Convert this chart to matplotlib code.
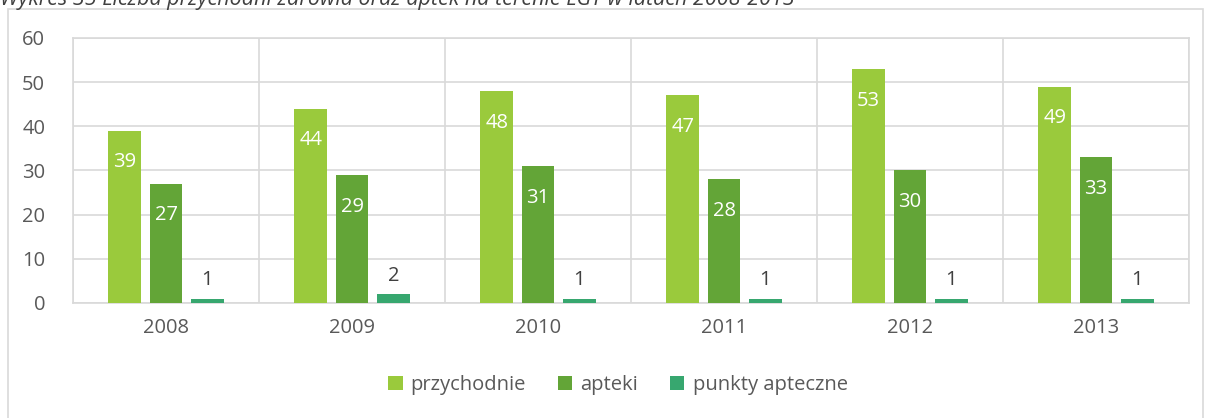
import matplotlib.pyplot as plt
import numpy as np
from matplotlib.patches import Rectangle

plt.rcParams['font.family'] = ['Open Sans', 'DejaVu Sans']

# dane
lata = ['2008', '2009', '2010', '2011', '2012', '2013']
przychodnie = [39, 44, 48, 47, 53, 49]
apteki = [27, 29, 31, 28, 30, 33]
punkty_apteczne = [1, 2, 1, 1, 1, 1]
serie = ['przychodnie', 'apteki', 'punkty apteczne']
kolory = ['#9ACA3C', '#63A537', '#37A76F']
tytul = 'Wykres 35 Liczba przychodni zdrowia oraz aptek na terenie LGT w latach 2008-2013'

W, H = 1208, 418
fig = plt.figure(figsize=(W / 100, H / 100), dpi=100)

# ramka wokol wykresu
fig.add_artist(Rectangle((8 / W, -0.1), (1203 - 8) / W, 1.1 - 9 / H, transform=fig.transFigure,
                         fill=False, edgecolor='#D9D9D9', linewidth=1.2))
fig.text(0, 1 + 0 / H, tytul, ha='left', va='center', fontsize=15.5, style='italic', color='#404040')

ax = fig.add_axes([73 / W, 1 - 303 / H, (1189 - 73) / W, (303 - 38) / H])

x = np.arange(len(lata))
szer = 0.177
krok = 0.222
dane = [przychodnie, apteki, punkty_apteczne]
for i, (vals, kol, nazwa) in enumerate(zip(dane, kolory, serie)):
    pos = x + (i - 1) * krok
    bars = ax.bar(pos, vals, width=szer, color=kol, label=nazwa, zorder=3)
    if i < 2:
        ax.bar_label(bars, labels=[str(v) for v in vals], padding=-30, color='white', fontsize=14.5)
    else:
        ax.bar_label(bars, labels=[str(v) for v in vals], padding=6, color='#404040', fontsize=14.5)

ax.set_xlim(-0.5, len(lata) - 0.5)
ax.set_ylim(0, 60)
ax.set_yticks(range(0, 61, 10))
ax.set_xticks(x)
ax.set_xticklabels(lata)
ax.set_xticks(np.arange(-0.5, len(lata), 1), minor=True)
ax.grid(axis='y', color='#D9D9D9', linewidth=1.2, zorder=0)
ax.grid(axis='x', which='minor', color='#D9D9D9', linewidth=1.2, zorder=0)
ax.tick_params(axis='both', which='both', length=0, labelsize=14.5, labelcolor='#595959')
ax.tick_params(axis='x', pad=11)
ax.tick_params(axis='y', pad=20)
for s in ax.spines.values():
    s.set_color('#D9D9D9')
    s.set_linewidth(1.2)

leg = fig.legend(loc='center', bbox_to_anchor=(618 / W, 1 - 385 / H), ncol=3, frameon=False,
                 fontsize=14.5, handlelength=0.7, handleheight=0.7, columnspacing=1.6, handletextpad=0.4)
for t in leg.get_texts():
    t.set_color('#595959')

plt.savefig('out.png', dpi=100)
